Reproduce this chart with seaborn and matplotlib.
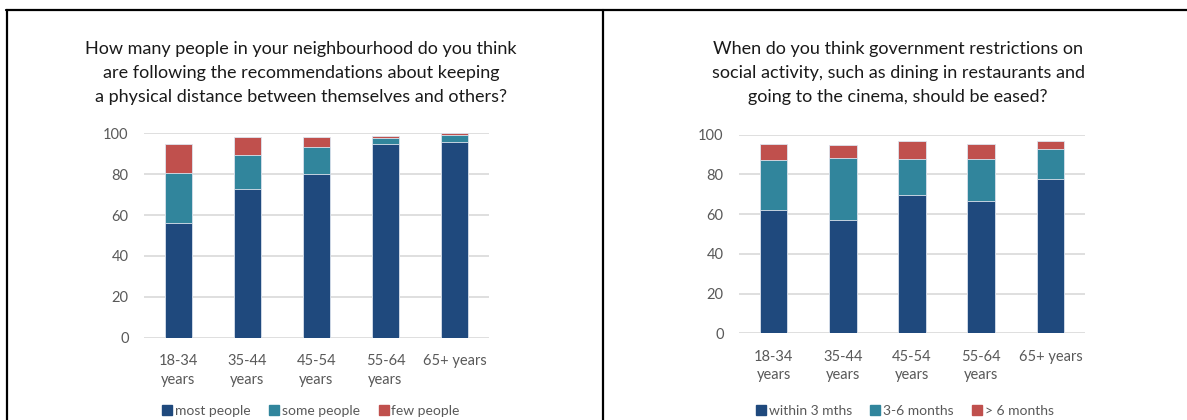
import matplotlib
matplotlib.use("Agg")
import matplotlib.pyplot as plt
from matplotlib.lines import Line2D
import numpy as np
import pandas as pd
import seaborn as sns

sns.set_theme(style="white")
plt.rcParams['font.family'] = ['Lato', 'DejaVu Sans']

categories = ["18-34\nyears", "35-44\nyears", "45-54\nyears", "55-64\nyears", "65+ years"]

# Left chart: distancing
left_title = ("How many people in your neighbourhood do you think\n"
              "are following the recommendations about keeping\n"
              "a physical distance between themselves and others?")
left_series = ["most people", "some people", "few people"]
left_most = [56.3, 72.6, 79.9, 94.6, 95.6]
left_some = [24.4, 16.6, 13.2, 3.2, 3.4]
left_few = [13.9, 9.0, 5.1, 1.0, 1.0]

# Right chart: easing restrictions
right_title = ("When do you think government restrictions on\n"
               "social activity, such as dining in restaurants and\n"
               "going to the cinema, should be eased?")
right_series = ["within 3 mths", "3-6 months", "> 6 months"]
right_within3 = [61.9, 57.2, 69.8, 66.6, 77.5]
right_3to6 = [25.2, 31.2, 18.1, 21.3, 15.1]
right_over6 = [8.0, 6.4, 8.7, 7.4, 4.0]

colors = ["#1F497D", "#31859C", "#C0504D"]
grid_c = "#D9D9D9"
text_c = "#595959"

W, H = 1187, 420
fig = plt.figure(figsize=(W / 100, H / 100), dpi=100)


def px_axes(x0, x1, y_top, y_bot):
    return fig.add_axes([x0 / W, 1 - y_bot / H, (x1 - x0) / W, (y_bot - y_top) / H])


def draw(ax, series_vals, series_names, title, title_cx, legend_cx):
    cum = np.cumsum(np.array(series_vals), axis=0)
    for i in reversed(range(len(series_names))):
        df = pd.DataFrame({"cat": categories, "val": cum[i]})
        sns.barplot(data=df, x="cat", y="val", color=colors[i], ax=ax,
                    width=0.4, saturation=1, edgecolor="#DDE4EE", linewidth=0.6,
                    label=series_names[i])
    ax.set_ylim(0, 100)
    ax.set_yticks([0, 20, 40, 60, 80, 100])
    ax.set_xlim(-0.5, 4.5)
    ax.yaxis.grid(True, color=grid_c, linewidth=1.2)
    ax.set_axisbelow(True)
    for s in ax.spines.values():
        s.set_visible(False)
    ax.set_xlabel("")
    ax.set_ylabel("")
    ax.tick_params(axis="both", length=0, labelsize=10.5, labelcolor=text_c)
    ax.tick_params(axis="y", pad=11)
    ax.tick_params(axis="x", pad=12)
    for lab in ax.get_xticklabels():
        lab.set_linespacing(1.4)
    if ax.legend_:
        ax.legend_.remove()
    handles = [Line2D([], [], marker="s", linestyle="", markersize=7,
                      markerfacecolor=c, markeredgecolor=c) for c in colors]
    fig.legend(handles, series_names, loc="center", ncol=3,
               bbox_to_anchor=(legend_cx / W, 1 - 411 / H), frameon=False,
               fontsize=10, labelcolor=text_c, handletextpad=0.05,
               columnspacing=1.2, handlelength=1.0)
    fig.text(title_cx / W, 1 - 73 / H, title, ha="center", va="center",
             fontsize=13, color="#1a1a1a", linespacing=1.62)


ax1 = px_axes(144, 489, 133.3, 337.7)
draw(ax1, [left_most, left_some, left_few], left_series, left_title, 301, 310)

ax2 = px_axes(739, 1085, 134.7, 333.3)
draw(ax2, [right_within3, right_3to6, right_over6], right_series, right_title, 898, 904)

# frame lines
lw = 1.6
fig.add_artist(Line2D([6 / W, 1], [1 - 10 / H, 1 - 10 / H], color="black", linewidth=lw,
                      transform=fig.transFigure))
fig.add_artist(Line2D([6.5 / W, 6.5 / W], [1 - 10 / H, 0], color="black", linewidth=lw,
                      transform=fig.transFigure))
fig.add_artist(Line2D([602.5 / W, 602.5 / W], [1 - 10 / H, 0], color="black", linewidth=lw,
                      transform=fig.transFigure))

fig.savefig("out.png", dpi=100)
